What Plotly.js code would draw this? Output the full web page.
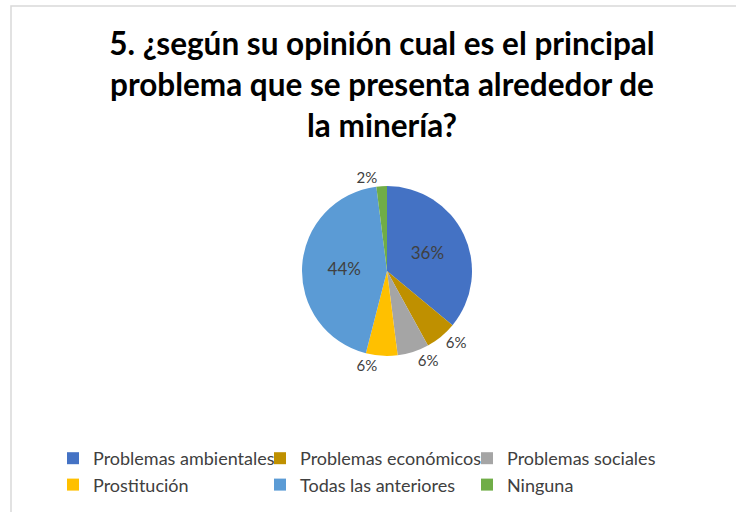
<!DOCTYPE html>
<html>
<head>
<meta charset="utf-8">
<script src="https://cdn.plot.ly/plotly-3.0.1.min.js"></script>
<style>html,body{margin:0;padding:0;background:#fff;}#chart{width:736px;height:512px;}</style>
</head>
<body>
<div id="chart"></div>
<script>
const categories = ["Problemas ambientales", "Problemas económicos", "Problemas sociales", "Prostitución", "Todas las anteriores", "Ninguna"];
const values = [36, 6, 6, 6, 44, 2];
const sliceColors = ["#4472C4", "#BF9000", "#A5A5A5", "#FFC000", "#5B9BD5", "#70AD47"];
const labelPositions = ["inside", "outside", "outside", "outside", "inside", "outside"];
const titleText = "5. ¿según su opinión cual es el principal<br>problema que se presenta alrededor de<br>la minería?";

const W = 736, H = 512;
const cx = 387, cy = 271, r = 85;

const trace = {
  type: "pie",
  labels: categories,
  values: values,
  sort: false,
  direction: "clockwise",
  rotation: 0,
  marker: { colors: sliceColors, line: { width: 0 } },
  textinfo: "percent",
  texttemplate: "%{percent:.0%}",
  textposition: labelPositions,
  insidetextorientation: "horizontal",
  textfont: { family: "Lato, sans-serif", size: 15, color: "#404040" },
  insidetextfont: { family: "Lato, sans-serif", size: 17, color: "#404040" },
  outsidetextfont: { family: "Lato, sans-serif", size: 15, color: "#404040" },
  domain: { x: [(cx - r) / W, (cx + r) / W], y: [(H - cy - r) / H, (H - cy + r) / H] },
  hoverinfo: "label+percent"
};

const layout = {
  width: W, height: H,
  margin: { l: 0, r: 0, t: 0, b: 0 },
  paper_bgcolor: "#ffffff",
  title: {
    text: titleText,
    font: { family: "Lato, sans-serif", size: 31.5, color: "#000000", weight: "bold" },
    x: 382 / W, xanchor: "center",
    y: 1 - 55 / H, yanchor: "top", yref: "container"
  },
  showlegend: true,
  legend: {
    orientation: "h",
    x: 53 / W, xanchor: "left",
    y: (H - 440) / H, yanchor: "top",
    entrywidth: 162, entrywidthmode: "pixels",
    font: { family: "Lato, sans-serif", size: 18, color: "#404040" },
    traceorder: "normal"
  },
  shapes: [
    { type: "rect", xref: "paper", yref: "paper", x0: 11 / W, x1: 1.05, y0: -0.05, y1: (H - 6) / H,
      line: { color: "#D9D9D9", width: 1.5 }, fillcolor: "rgba(0,0,0,0)" }
  ]
};

Plotly.newPlot("chart", [trace], layout, { staticPlot: true, displayModeBar: false });
</script>
</body>
</html>
